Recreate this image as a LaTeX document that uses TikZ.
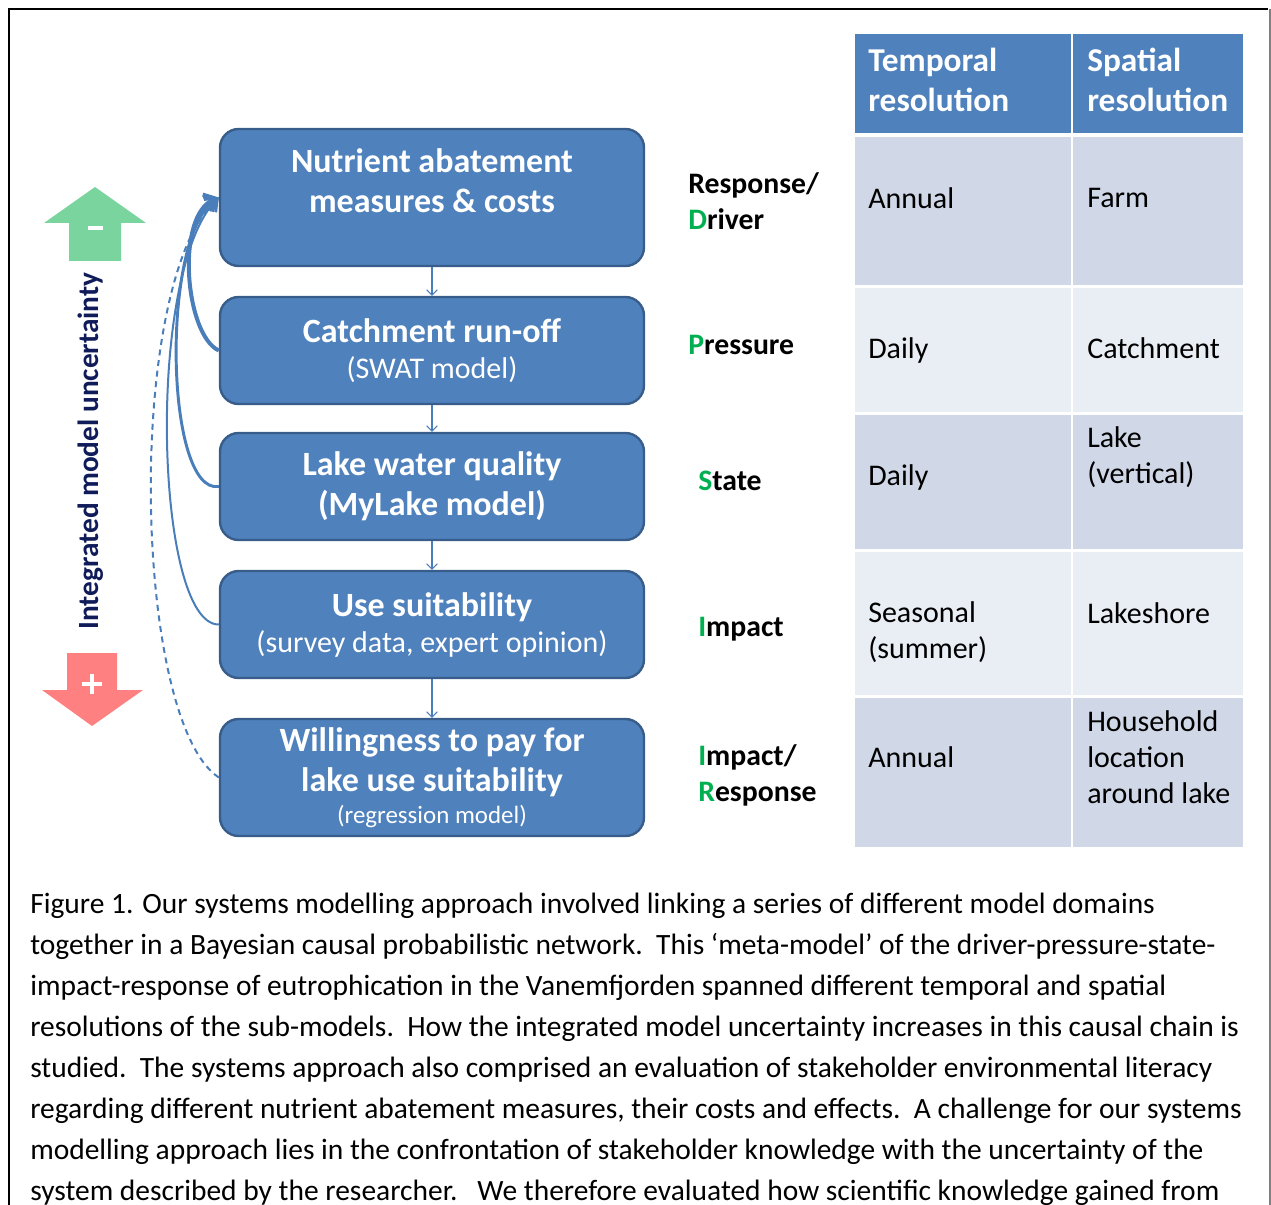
\documentclass[tikz,border=0pt]{standalone}
\usepackage{fontspec}
\setmainfont{Carlito}
\usetikzlibrary{arrows.meta}

\definecolor{boxblue}{RGB}{79,129,189}
\definecolor{boxedge}{RGB}{56,93,138}
\definecolor{rowdark}{RGB}{208,216,232}
\definecolor{rowlight}{RGB}{233,237,244}
\definecolor{dpsirgreen}{RGB}{0,176,80}
\definecolor{upgreen}{RGB}{122,212,158}
\definecolor{downred}{RGB}{255,128,128}
\definecolor{axisnavy}{RGB}{16,28,90}
\definecolor{linkblue}{RGB}{74,126,187}

\newcommand{\gl}[1]{\textcolor{dpsirgreen}{#1}}

\tikzset{
  modbox/.style={draw=boxedge, line width=1.8pt, fill=boxblue, rounded corners=14pt,
    minimum width=318pt, text=white, align=center, inner sep=0pt,
    font=\bfseries\fontsize{25.5}{30}\selectfont},
  flow/.style={draw=linkblue, line width=0.8pt, -{Straight Barb[length=4pt,width=8pt]}},
  feedback/.style={draw=linkblue, -{Straight Barb[length=8pt,width=13pt]}},
  headtext/.style={anchor=west, align=left, inner sep=0pt, text=white,
    font=\bfseries\fontsize{25}{30}\selectfont},
  celltext/.style={anchor=west, align=left, inner sep=0pt,
    font=\fontsize{22.5}{27}\selectfont},
  dpsir/.style={anchor=west, align=left, inner sep=0pt,
    font=\bfseries\fontsize{22.3}{27}\selectfont},
  captext/.style={anchor=base west, inner sep=0pt, font=\fontsize{22.1}{30}\selectfont}
}

\begin{document}
\begin{tikzpicture}[x=0.75pt,y=0.75pt,yscale=-1]
    \useasboundingbox (0,0) rectangle (1271,1205);
    \draw [line width=2.2pt] (9,1205) -- (9,9) -- (1268,9);
    \draw [gray, line width=0.8pt] (1270,9) -- (1270,1205);

    \fill [upgreen] (95,187) -- (146,223) -- (121,223) -- (121,261) -- (69,261) -- (69,223) -- (44,223) -- cycle;
    \draw [white, line width=3.6pt] (88,228) -- (103,228);
    \fill [downred] (67,653) -- (117,653) -- (117,690) -- (143,690) -- (92,726) -- (42,690) -- (67,690) -- cycle;
    \draw [white, line width=3.6pt] (82,684) -- (102,684) (92,674) -- (92,694);
    \node [rotate=90, text=axisnavy, font=\bfseries\fontsize{22}{26}\selectfont] (axis) at (91,451) {Integrated model uncertainty};

    \node [modbox, minimum height=102.75pt] (b1) at (432,197.5) {};
    \node [text=white, align=center, inner sep=0pt, font=\bfseries\fontsize{25.5}{30}\selectfont] (t1) at (432,181) {Nutrient abatement\\measures \& costs};
    \node [modbox, minimum height=80.25pt] (b2) at (432,350.5) {Catchment run-off\\[-3pt]{\mdseries\fontsize{22.5}{27}\selectfont (SWAT model)}};
    \node [modbox, minimum height=80.25pt] (b3) at (432,486.5) {Lake water quality\\(MyLake model)};
    \node [modbox, minimum height=80.25pt] (b4) at (432,624.5) {Use suitability\\[-3pt]{\mdseries\fontsize{22.5}{27}\selectfont (survey data, expert opinion)}};
    \node [modbox, minimum height=87.75pt] (b5) at (432,777.5) {Willingness to pay for\\lake use suitability\\[-6pt]{\mdseries\fontsize{18.7}{22}\selectfont (regression model)}};

    \draw [flow] (b1) -- (b2);
    \draw [flow] (b2) -- (b3);
    \draw [flow] (b3) -- (b4);
    \draw [flow] (b4) -- (b5);

    \draw [feedback, line width=3pt] (b2.west) .. controls (185,335) and (175,215) .. (b1.west);
    \draw [feedback, line width=2.2pt] (b3.west) .. controls (165,495) and (160,235) .. (b1.west);
    \draw [feedback, line width=1.5pt] (b4.west) .. controls (155,625) and (145,270) .. (b1.west);
    \draw [feedback, line width=1.5pt, dash pattern=on 4.5pt off 3.5pt] (b5.west) .. controls (132,720) and (125,280) .. (b1.west);

    \node [dpsir] (l1) at (688,201) {Response/\\\gl{D}river};
    \node [dpsir] (l2) at (688,345) {\gl{P}ressure};
    \node [dpsir] (l3) at (698,481) {\gl{S}tate};
    \node [dpsir] (l4) at (698,629) {\gl{I}mpact};
    \node [dpsir] (l5) at (698,775) {\gl{I}mpact/\\\gl{R}esponse};

    \fill [boxblue] (855,34) rectangle (1071,133);
    \fill [boxblue] (1073,34) rectangle (1243,133);
    \foreach \top/\bot/\shade in {137/285/rowdark, 288/412/rowlight, 415/549/rowdark, 552/695/rowlight, 698/847/rowdark}
    {
      \fill [\shade] (855,\top) rectangle (1071,\bot);
      \fill [\shade] (1073,\top) rectangle (1243,\bot);
    }
    \node [headtext] (h1) at (868,80) {Temporal\\resolution};
    \node [headtext] (h2) at (1087,80) {Spatial\\resolution};

    \node [celltext] (c11) at (868,198) {Annual};
    \node [celltext] (c12) at (1087,198) {Farm};
    \node [celltext] (c21) at (868,351) {Daily};
    \node [celltext] (c22) at (1087,348) {Catchment};
    \node [celltext] (c31) at (868,478) {Daily};
    \node [celltext] (c32) at (1087,457) {Lake\\(vertical)};
    \node [celltext] (c41) at (868,632) {Seasonal\\(summer)};
    \node [celltext] (c42) at (1087,613) {Lakeshore};
    \node [celltext] (c51) at (868,757) {Annual};
    \node [celltext] (c52) at (1087,757) {Household\\location\\around lake};

    \node [captext] (cap1) at (30,913) {Figure 1. Our systems modelling approach involved linking a series of different model domains};
    \node [captext] (cap2) at (30,954) {together in a Bayesian causal probabilistic network.\ \ This ‘meta-model’ of the driver-pressure-state-};
    \node [captext] (cap3) at (30,995) {impact-response of eutrophication in the Vanemfjorden spanned different temporal and spatial};
    \node [captext] (cap4) at (30,1036) {resolutions of the sub-models.\ \ How the integrated model uncertainty increases in this causal chain is};
    \node [captext] (cap5) at (30,1077) {studied.\ \ The systems approach also comprised an evaluation of stakeholder environmental literacy};
    \node [captext] (cap6) at (30,1118) {regarding different nutrient abatement measures, their costs and effects.\ \ A challenge for our systems};
    \node [captext] (cap7) at (30,1159) {modelling approach lies in the confrontation of stakeholder knowledge with the uncertainty of the};
    \node [captext] (cap8) at (30,1200) {system described by the researcher.\ \ \ We therefore evaluated how scientific knowledge gained from};
\end{tikzpicture}
\end{document}
